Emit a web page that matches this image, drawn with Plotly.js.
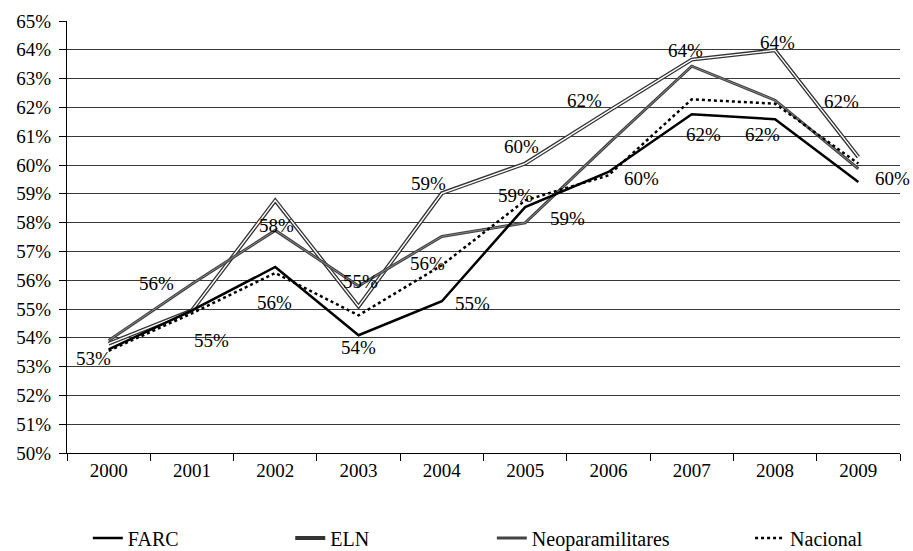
<!DOCTYPE html>
<html>
<head>
<meta charset="utf-8">
<script src="https://cdn.plot.ly/plotly-3.0.1.min.js"></script>
<style>html,body{margin:0;padding:0;background:#fff;}#chart{width:913px;height:551px;}</style>
</head>
<body>
<div id="chart"></div>
<script>
// ---- data ----
var years = ['2000','2001','2002','2003','2004','2005','2006','2007','2008','2009'];
var farc = [53.60, 54.95, 56.46, 54.09, 55.27, 58.54, 59.76, 61.76, 61.59, 59.41];
var eln = [53.80, 54.95, 58.77, 55.09, 59.02, 60.05, 61.87, 63.66, 63.98, 60.28];
var neo = [53.91, 55.87, 57.73, 55.80, 57.52, 57.99, 60.74, 63.43, 62.25, 59.87];
var nacional = [53.55, 54.85, 56.25, 54.78, 56.52, 58.77, 59.64, 62.28, 62.13, 60.05];
var seriesNames = ['FARC', 'ELN', 'Neoparamilitares', 'Nacional'];
var yTickVals = [50,51,52,53,54,55,56,57,58,59,60,61,62,63,64,65];

// data labels: series, year, text
var labelSeries = ['FARC','Neoparamilitares','FARC','Neoparamilitares','FARC','Neoparamilitares','FARC','ELN','Nacional','FARC','ELN','Nacional','FARC','ELN','FARC','ELN','FARC','ELN','FARC','Neoparamilitares','FARC'];
var labelYear   = ['2000','2001','2001','2002','2002','2003','2003','2004','2004','2004','2005','2005','2005','2006','2006','2007','2007','2008','2008','2008','2009'];
var labelText   = ['53%','56%','55%','58%','56%','55%','54%','59%','56%','55%','60%','59%','59%','62%','60%','64%','62%','64%','62%','62%','60%'];

// ---- presentation ----
var labelDx = [-15,-35,20,1,-1,2,0,-13,-14,31,-4,-10,42,-24,33,-6,12,2,-13,66,34];
var labelDy = [-9,0,-30,5,-36,4,-12,10,2,-2,17,5,-11,11,-7,9,-20,8,-15,-1,3];
var FONT = "'Liberation Serif', 'Times New Roman', serif";

var lookup = {'FARC': farc, 'ELN': eln, 'Neoparamilitares': neo, 'Nacional': nacional};

var traces = [
  {x: years, y: eln, mode: 'lines', name: seriesNames[1], legend: 'legend2',
   line: {color: '#333333', width: 4}, hoverinfo: 'skip'},
  {x: years, y: eln, mode: 'lines', name: seriesNames[1], showlegend: false,
   line: {color: '#ffffff', width: 1.4}, hoverinfo: 'skip'},
  {x: years, y: neo, mode: 'lines', name: seriesNames[2], legend: 'legend3',
   line: {color: '#444444', width: 3}, hoverinfo: 'skip'},
  {x: years, y: neo, mode: 'lines', name: seriesNames[2], showlegend: false,
   line: {color: '#888888', width: 0.9}, hoverinfo: 'skip'},
  {x: years, y: nacional, mode: 'lines', name: seriesNames[3], legend: 'legend4',
   line: {color: '#000000', width: 2.5, dash: 'dot'}, hoverinfo: 'skip'},
  {x: years, y: farc, mode: 'lines', name: seriesNames[0], legend: 'legend',
   line: {color: '#000000', width: 2.5}, hoverinfo: 'skip'}
];

var annotations = [];
for (var i = 0; i < labelText.length; i++) {
  var arr = lookup[labelSeries[i]];
  var idx = years.indexOf(labelYear[i]);
  annotations.push({x: idx, y: arr[idx], xref: 'x', yref: 'y', text: labelText[i],
          showarrow: false, xshift: labelDx[i], yshift: labelDy[i],
          font: {family: FONT, size: 19, color: '#000'}});
}

function leg(x){
  return {orientation: 'h', x: x, xanchor: 'left', y: -0.197, yanchor: 'middle',
          font: {family: FONT, size: 20, color: '#000'}, itemwidth: 30,
          bgcolor: 'rgba(0,0,0,0)', borderwidth: 0};
}

var layout = {
  width: 913, height: 551,
  margin: {l: 67, r: 13, t: 21, b: 98, autoexpand: false},
  paper_bgcolor: '#fff', plot_bgcolor: '#fff',
  font: {family: FONT, size: 19, color: '#000'},
  showlegend: true,
  legend: leg(0.025),
  legend2: leg(0.268),
  legend3: leg(0.51),
  legend4: leg(0.82),
  xaxis: {type: 'category', range: [-0.5, 9.5], showgrid: false, showline: true,
          linecolor: '#000', linewidth: 1, ticks: 'outside', tickson: 'boundaries',
          ticklen: 7, tickcolor: '#000', tickwidth: 1, zeroline: false, automargin: false,
          tickfont: {family: FONT, size: 19, color: '#000'}, fixedrange: true},
  yaxis: {range: [50, 65], tickvals: yTickVals, ticktext: yTickVals.map(function(v){return v + '%';}),
          showgrid: true, gridcolor: '#3a3a3a', gridwidth: 1, showline: true,
          linecolor: '#000', linewidth: 1, ticks: 'outside', ticklen: 7, tickcolor: '#000',
          zeroline: false, ticklabelstandoff: 4, automargin: false,
          tickfont: {family: FONT, size: 19, color: '#000'}, fixedrange: true},
  annotations: annotations
};

Plotly.newPlot('chart', traces, layout, {displayModeBar: false, staticPlot: true});
</script>
</body>
</html>
